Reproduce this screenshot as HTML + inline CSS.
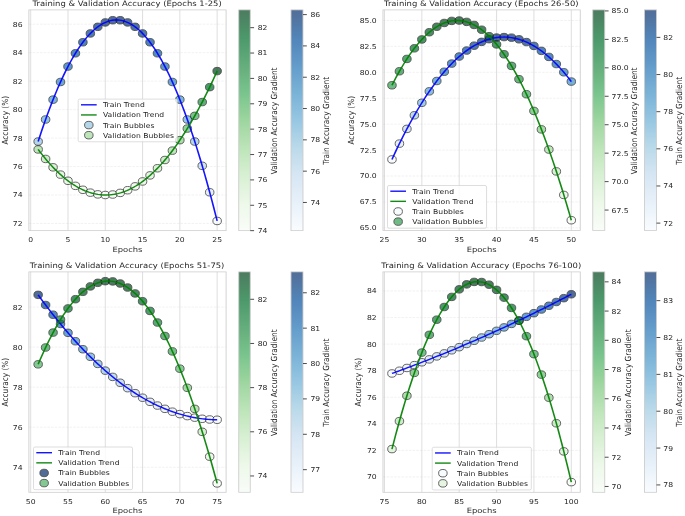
<!DOCTYPE html>
<html><head><meta charset="utf-8"><title>Training &amp; Validation Accuracy</title>
<style>html,body{margin:0;padding:0;background:#fff;overflow:hidden}svg{display:block}text{font-family:"DejaVu Sans","Liberation Sans",sans-serif}</style>
</head><body>
<svg width="685" height="516" viewBox="0 0 685 516">
<defs><linearGradient id="gG" x1="0" y1="0" x2="0" y2="1"><stop offset="0.0000" stop-color="#00441b"/><stop offset="0.0312" stop-color="#004d1f"/><stop offset="0.0625" stop-color="#005723"/><stop offset="0.0938" stop-color="#006227"/><stop offset="0.1250" stop-color="#006c2c"/><stop offset="0.1562" stop-color="#087432"/><stop offset="0.1875" stop-color="#117b38"/><stop offset="0.2188" stop-color="#19833e"/><stop offset="0.2500" stop-color="#228a44"/><stop offset="0.2812" stop-color="#2a924a"/><stop offset="0.3125" stop-color="#319a50"/><stop offset="0.3438" stop-color="#39a257"/><stop offset="0.3750" stop-color="#40aa5d"/><stop offset="0.4062" stop-color="#4db163"/><stop offset="0.4375" stop-color="#5ab769"/><stop offset="0.4688" stop-color="#66bd6f"/><stop offset="0.5000" stop-color="#73c476"/><stop offset="0.5312" stop-color="#7fc97f"/><stop offset="0.5625" stop-color="#8ace88"/><stop offset="0.5938" stop-color="#95d391"/><stop offset="0.6250" stop-color="#a0d99b"/><stop offset="0.6562" stop-color="#aadda4"/><stop offset="0.6875" stop-color="#b4e1ad"/><stop offset="0.7188" stop-color="#bde5b6"/><stop offset="0.7500" stop-color="#c7e9c0"/><stop offset="0.7812" stop-color="#ceecc8"/><stop offset="0.8125" stop-color="#d6efd0"/><stop offset="0.8438" stop-color="#ddf2d8"/><stop offset="0.8750" stop-color="#e5f5e0"/><stop offset="0.9062" stop-color="#e9f7e5"/><stop offset="0.9375" stop-color="#eef8ea"/><stop offset="0.9688" stop-color="#f2faf0"/><stop offset="1.0000" stop-color="#f7fcf5"/></linearGradient><linearGradient id="gB" x1="0" y1="0" x2="0" y2="1"><stop offset="0.0000" stop-color="#08306b"/><stop offset="0.0312" stop-color="#083776"/><stop offset="0.0625" stop-color="#084082"/><stop offset="0.0938" stop-color="#08488e"/><stop offset="0.1250" stop-color="#08509b"/><stop offset="0.1562" stop-color="#0e58a2"/><stop offset="0.1875" stop-color="#1460a8"/><stop offset="0.2188" stop-color="#1a68ae"/><stop offset="0.2500" stop-color="#2070b4"/><stop offset="0.2812" stop-color="#2979b9"/><stop offset="0.3125" stop-color="#3181bd"/><stop offset="0.3438" stop-color="#3989c1"/><stop offset="0.3750" stop-color="#4191c6"/><stop offset="0.4062" stop-color="#4b98ca"/><stop offset="0.4375" stop-color="#56a0ce"/><stop offset="0.4688" stop-color="#60a7d2"/><stop offset="0.5000" stop-color="#6aaed6"/><stop offset="0.5312" stop-color="#77b5d9"/><stop offset="0.5625" stop-color="#84bcdb"/><stop offset="0.5938" stop-color="#91c3de"/><stop offset="0.6250" stop-color="#9dcae1"/><stop offset="0.6562" stop-color="#a8cee4"/><stop offset="0.6875" stop-color="#b2d2e8"/><stop offset="0.7188" stop-color="#bcd7eb"/><stop offset="0.7500" stop-color="#c6dbef"/><stop offset="0.7812" stop-color="#ccdff1"/><stop offset="0.8125" stop-color="#d2e3f3"/><stop offset="0.8438" stop-color="#d8e7f5"/><stop offset="0.8750" stop-color="#deebf7"/><stop offset="0.9062" stop-color="#e4eff9"/><stop offset="0.9375" stop-color="#eaf3fb"/><stop offset="0.9688" stop-color="#f1f7fd"/><stop offset="1.0000" stop-color="#f7fbff"/></linearGradient></defs>
<rect width="685" height="516" fill="#fff"/>
<g transform="scale(0.6975,0.614)">
<g id="ax1">
<rect x="41.43" y="16.12" width="282.72" height="359.53" fill="#fff"/>
<line x1="44.00" x2="44.00" y1="16.12" y2="375.65" stroke="#cccccc" stroke-width="1.0"/>
<line x1="97.47" x2="97.47" y1="16.12" y2="375.65" stroke="#cccccc" stroke-width="1.0"/>
<line x1="150.93" x2="150.93" y1="16.12" y2="375.65" stroke="#cccccc" stroke-width="1.0"/>
<line x1="204.40" x2="204.40" y1="16.12" y2="375.65" stroke="#cccccc" stroke-width="1.0"/>
<line x1="257.86" x2="257.86" y1="16.12" y2="375.65" stroke="#cccccc" stroke-width="1.0"/>
<line x1="311.33" x2="311.33" y1="16.12" y2="375.65" stroke="#cccccc" stroke-width="1.0"/>
<line x1="41.43" x2="324.16" y1="363.95" y2="363.95" stroke="#cccccc" stroke-width="1.0" stroke-dasharray="3.7 1.6" stroke-opacity="0.4"/>
<line x1="41.43" x2="324.16" y1="317.58" y2="317.58" stroke="#cccccc" stroke-width="1.0" stroke-dasharray="3.7 1.6" stroke-opacity="0.4"/>
<line x1="41.43" x2="324.16" y1="271.22" y2="271.22" stroke="#cccccc" stroke-width="1.0" stroke-dasharray="3.7 1.6" stroke-opacity="0.4"/>
<line x1="41.43" x2="324.16" y1="224.86" y2="224.86" stroke="#cccccc" stroke-width="1.0" stroke-dasharray="3.7 1.6" stroke-opacity="0.4"/>
<line x1="41.43" x2="324.16" y1="178.50" y2="178.50" stroke="#cccccc" stroke-width="1.0" stroke-dasharray="3.7 1.6" stroke-opacity="0.4"/>
<line x1="41.43" x2="324.16" y1="132.14" y2="132.14" stroke="#cccccc" stroke-width="1.0" stroke-dasharray="3.7 1.6" stroke-opacity="0.4"/>
<line x1="41.43" x2="324.16" y1="85.78" y2="85.78" stroke="#cccccc" stroke-width="1.0" stroke-dasharray="3.7 1.6" stroke-opacity="0.4"/>
<line x1="41.43" x2="324.16" y1="39.42" y2="39.42" stroke="#cccccc" stroke-width="1.0" stroke-dasharray="3.7 1.6" stroke-opacity="0.4"/>
<circle cx="54.69" cy="230.53" r="6.12" fill="#97c6df" stroke="#000" stroke-width="1.3" opacity="0.7"/>
<circle cx="65.39" cy="194.60" r="6.12" fill="#69add5" stroke="#000" stroke-width="1.3" opacity="0.7"/>
<circle cx="76.08" cy="162.26" r="6.12" fill="#4997c9" stroke="#000" stroke-width="1.3" opacity="0.7"/>
<circle cx="86.77" cy="133.52" r="6.12" fill="#3181bd" stroke="#000" stroke-width="1.3" opacity="0.7"/>
<circle cx="97.47" cy="108.37" r="6.12" fill="#1d6cb1" stroke="#000" stroke-width="1.3" opacity="0.7"/>
<circle cx="108.16" cy="86.81" r="6.12" fill="#105ba4" stroke="#000" stroke-width="1.3" opacity="0.7"/>
<circle cx="118.85" cy="68.84" r="6.12" fill="#084d96" stroke="#000" stroke-width="1.3" opacity="0.7"/>
<circle cx="129.54" cy="54.47" r="6.12" fill="#084285" stroke="#000" stroke-width="1.3" opacity="0.7"/>
<circle cx="140.24" cy="43.69" r="6.12" fill="#083877" stroke="#000" stroke-width="1.3" opacity="0.7"/>
<circle cx="150.93" cy="36.51" r="6.12" fill="#083370" stroke="#000" stroke-width="1.3" opacity="0.7"/>
<circle cx="161.62" cy="32.92" r="6.12" fill="#08306b" stroke="#000" stroke-width="1.3" opacity="0.7"/>
<circle cx="172.32" cy="32.92" r="6.12" fill="#08306b" stroke="#000" stroke-width="1.3" opacity="0.7"/>
<circle cx="183.01" cy="36.51" r="6.12" fill="#083370" stroke="#000" stroke-width="1.3" opacity="0.7"/>
<circle cx="193.70" cy="43.69" r="6.12" fill="#083877" stroke="#000" stroke-width="1.3" opacity="0.7"/>
<circle cx="204.40" cy="54.47" r="6.12" fill="#084285" stroke="#000" stroke-width="1.3" opacity="0.7"/>
<circle cx="215.09" cy="68.84" r="6.12" fill="#084d96" stroke="#000" stroke-width="1.3" opacity="0.7"/>
<circle cx="225.78" cy="86.81" r="6.12" fill="#105ba4" stroke="#000" stroke-width="1.3" opacity="0.7"/>
<circle cx="236.47" cy="108.37" r="6.12" fill="#1d6cb1" stroke="#000" stroke-width="1.3" opacity="0.7"/>
<circle cx="247.17" cy="133.52" r="6.12" fill="#3181bd" stroke="#000" stroke-width="1.3" opacity="0.7"/>
<circle cx="257.86" cy="162.26" r="6.12" fill="#4997c9" stroke="#000" stroke-width="1.3" opacity="0.7"/>
<circle cx="268.55" cy="194.60" r="6.12" fill="#69add5" stroke="#000" stroke-width="1.3" opacity="0.7"/>
<circle cx="279.25" cy="230.53" r="6.12" fill="#97c6df" stroke="#000" stroke-width="1.3" opacity="0.7"/>
<circle cx="289.94" cy="270.05" r="6.12" fill="#bfd8ed" stroke="#000" stroke-width="1.3" opacity="0.7"/>
<circle cx="300.63" cy="313.17" r="6.12" fill="#dbe9f6" stroke="#000" stroke-width="1.3" opacity="0.7"/>
<circle cx="311.33" cy="359.87" r="6.12" fill="#f7fbff" stroke="#000" stroke-width="1.3" opacity="0.7"/>
<circle cx="54.69" cy="243.38" r="6.12" fill="#a3da9d" stroke="#000" stroke-width="1.3" opacity="0.7"/>
<circle cx="65.39" cy="258.86" r="6.12" fill="#bbe4b4" stroke="#000" stroke-width="1.3" opacity="0.7"/>
<circle cx="76.08" cy="272.52" r="6.12" fill="#cdecc7" stroke="#000" stroke-width="1.3" opacity="0.7"/>
<circle cx="86.77" cy="284.39" r="6.12" fill="#dbf1d6" stroke="#000" stroke-width="1.3" opacity="0.7"/>
<circle cx="97.47" cy="294.44" r="6.12" fill="#e7f6e2" stroke="#000" stroke-width="1.3" opacity="0.7"/>
<circle cx="108.16" cy="302.68" r="6.12" fill="#edf8e9" stroke="#000" stroke-width="1.3" opacity="0.7"/>
<circle cx="118.85" cy="309.12" r="6.12" fill="#f1faee" stroke="#000" stroke-width="1.3" opacity="0.7"/>
<circle cx="129.54" cy="313.75" r="6.12" fill="#f5fbf2" stroke="#000" stroke-width="1.3" opacity="0.7"/>
<circle cx="140.24" cy="316.57" r="6.12" fill="#f6fcf4" stroke="#000" stroke-width="1.3" opacity="0.7"/>
<circle cx="150.93" cy="317.58" r="6.12" fill="#f7fcf5" stroke="#000" stroke-width="1.3" opacity="0.7"/>
<circle cx="161.62" cy="316.79" r="6.12" fill="#f6fcf4" stroke="#000" stroke-width="1.3" opacity="0.7"/>
<circle cx="172.32" cy="314.18" r="6.12" fill="#f5fbf2" stroke="#000" stroke-width="1.3" opacity="0.7"/>
<circle cx="183.01" cy="309.77" r="6.12" fill="#f2faef" stroke="#000" stroke-width="1.3" opacity="0.7"/>
<circle cx="193.70" cy="303.55" r="6.12" fill="#edf8ea" stroke="#000" stroke-width="1.3" opacity="0.7"/>
<circle cx="204.40" cy="295.52" r="6.12" fill="#e7f6e3" stroke="#000" stroke-width="1.3" opacity="0.7"/>
<circle cx="215.09" cy="285.69" r="6.12" fill="#ddf2d8" stroke="#000" stroke-width="1.3" opacity="0.7"/>
<circle cx="225.78" cy="274.04" r="6.12" fill="#cfecc9" stroke="#000" stroke-width="1.3" opacity="0.7"/>
<circle cx="236.47" cy="260.59" r="6.12" fill="#bde5b6" stroke="#000" stroke-width="1.3" opacity="0.7"/>
<circle cx="247.17" cy="245.33" r="6.12" fill="#a7dba0" stroke="#000" stroke-width="1.3" opacity="0.7"/>
<circle cx="257.86" cy="228.26" r="6.12" fill="#88ce87" stroke="#000" stroke-width="1.3" opacity="0.7"/>
<circle cx="268.55" cy="209.39" r="6.12" fill="#65bd6f" stroke="#000" stroke-width="1.3" opacity="0.7"/>
<circle cx="279.25" cy="188.70" r="6.12" fill="#3ea75a" stroke="#000" stroke-width="1.3" opacity="0.7"/>
<circle cx="289.94" cy="166.21" r="6.12" fill="#228a44" stroke="#000" stroke-width="1.3" opacity="0.7"/>
<circle cx="300.63" cy="141.91" r="6.12" fill="#006d2c" stroke="#000" stroke-width="1.3" opacity="0.7"/>
<circle cx="311.33" cy="115.80" r="6.12" fill="#00441b" stroke="#000" stroke-width="1.3" opacity="0.7"/>
<polyline points="54.69,230.53 57.29,221.49 59.88,212.66 62.47,204.04 65.06,195.63 67.65,187.44 70.25,179.45 72.84,171.68 75.43,164.12 78.02,156.77 80.62,149.63 83.21,142.70 85.80,135.98 88.39,129.48 90.98,123.18 93.58,117.10 96.17,111.22 98.76,105.56 101.35,100.11 103.95,94.87 106.54,89.84 109.13,85.03 111.72,80.42 114.31,76.03 116.91,71.84 119.50,67.87 122.09,64.11 124.68,60.56 127.28,57.22 129.87,54.09 132.46,51.18 135.05,48.47 137.65,45.98 140.24,43.69 142.83,41.62 145.42,39.76 148.01,38.11 150.61,36.67 153.20,35.45 155.79,34.43 158.38,33.62 160.98,33.03 163.57,32.65 166.16,32.48 168.75,32.52 171.34,32.77 173.94,33.23 176.53,33.90 179.12,34.79 181.71,35.88 184.31,37.19 186.90,38.71 189.49,40.43 192.08,42.37 194.67,44.53 197.27,46.89 199.86,49.46 202.45,52.25 205.04,55.24 207.64,58.45 210.23,61.87 212.82,65.50 215.41,69.34 218.00,73.39 220.60,77.65 223.19,82.12 225.78,86.81 228.37,91.71 230.97,96.81 233.56,102.13 236.15,107.66 238.74,113.40 241.34,119.35 243.93,125.52 246.52,131.89 249.11,138.48 251.70,145.27 254.30,152.28 256.89,159.50 259.48,166.93 262.07,174.57 264.67,182.42 267.26,190.49 269.85,198.76 272.44,207.25 275.03,215.94 277.63,224.85 280.22,233.97 282.81,243.30 285.40,252.84 288.00,262.60 290.59,272.56 293.18,282.74 295.77,293.12 298.36,303.72 300.96,314.53 303.55,325.55 306.14,336.78 308.73,348.22 311.33,359.87" fill="none" stroke="#0000ff" stroke-width="2.3" stroke-linejoin="round" stroke-opacity="0.92"/>
<polyline points="54.69,243.38 57.29,247.30 59.88,251.11 62.47,254.81 65.06,258.41 67.65,261.91 70.25,265.29 72.84,268.57 75.43,271.75 78.02,274.82 80.62,277.78 83.21,280.63 85.80,283.38 88.39,286.02 90.98,288.56 93.58,290.99 96.17,293.32 98.76,295.53 101.35,297.65 103.95,299.65 106.54,301.55 109.13,303.34 111.72,305.03 114.31,306.61 116.91,308.08 119.50,309.45 122.09,310.71 124.68,311.87 127.28,312.92 129.87,313.86 132.46,314.70 135.05,315.43 137.65,316.05 140.24,316.57 142.83,316.98 145.42,317.29 148.01,317.48 150.61,317.58 153.20,317.56 155.79,317.44 158.38,317.22 160.98,316.89 163.57,316.45 166.16,315.90 168.75,315.25 171.34,314.49 173.94,313.63 176.53,312.66 179.12,311.58 181.71,310.40 184.31,309.11 186.90,307.72 189.49,306.22 192.08,304.61 194.67,302.90 197.27,301.08 199.86,299.15 202.45,297.12 205.04,294.98 207.64,292.73 210.23,290.38 212.82,287.92 215.41,285.36 218.00,282.69 220.60,279.91 223.19,277.03 225.78,274.04 228.37,270.95 230.97,267.75 233.56,264.44 236.15,261.03 238.74,257.51 241.34,253.88 243.93,250.15 246.52,246.31 249.11,242.36 251.70,238.31 254.30,234.15 256.89,229.89 259.48,225.52 262.07,221.04 264.67,216.46 267.26,211.77 269.85,206.98 272.44,202.07 275.03,197.07 277.63,191.95 280.22,186.73 282.81,181.41 285.40,175.97 288.00,170.43 290.59,164.79 293.18,159.04 295.77,153.18 298.36,147.22 300.96,141.14 303.55,134.97 306.14,128.69 308.73,122.30 311.33,115.80" fill="none" stroke="#008000" stroke-width="2.3" stroke-linejoin="round" stroke-opacity="0.92"/>
<rect x="41.43" y="16.12" width="282.72" height="359.53" fill="none" stroke="#cccccc" stroke-width="1.25"/>
<text x="44.00" y="394.45" font-size="11" text-anchor="middle" fill="#262626">0</text>
<text x="97.47" y="394.45" font-size="11" text-anchor="middle" fill="#262626">5</text>
<text x="150.93" y="394.45" font-size="11" text-anchor="middle" fill="#262626">10</text>
<text x="204.40" y="394.45" font-size="11" text-anchor="middle" fill="#262626">15</text>
<text x="257.86" y="394.45" font-size="11" text-anchor="middle" fill="#262626">20</text>
<text x="311.33" y="394.45" font-size="11" text-anchor="middle" fill="#262626">25</text>
<text x="32.43" y="367.95" font-size="11" text-anchor="end" fill="#262626">72</text>
<text x="32.43" y="321.58" font-size="11" text-anchor="end" fill="#262626">74</text>
<text x="32.43" y="275.22" font-size="11" text-anchor="end" fill="#262626">76</text>
<text x="32.43" y="228.86" font-size="11" text-anchor="end" fill="#262626">78</text>
<text x="32.43" y="182.50" font-size="11" text-anchor="end" fill="#262626">80</text>
<text x="32.43" y="136.14" font-size="11" text-anchor="end" fill="#262626">82</text>
<text x="32.43" y="89.78" font-size="11" text-anchor="end" fill="#262626">84</text>
<text x="32.43" y="43.42" font-size="11" text-anchor="end" fill="#262626">86</text>
<text x="182.80" y="410.15" font-size="12" text-anchor="middle" fill="#262626">Epochs</text>
<text transform="translate(11.43,195.89) rotate(-90)" font-size="12" text-anchor="middle" fill="#262626">Accuracy (%)</text>
<text x="182.30" y="9.72" font-size="12.1" text-anchor="middle" fill="#262626">Training &amp; Validation Accuracy (Epochs 1-25)</text>
<rect x="112.11" y="161.40" width="142.00" height="69.50" rx="2.2" ry="2.2" fill="#fff" fill-opacity="0.8" stroke="#cccccc" stroke-width="1"/>
<line x1="116.11" x2="138.61" y1="170.70" y2="170.70" stroke="#0000ff" stroke-width="2.3" stroke-opacity="0.92"/>
<line x1="116.11" x2="138.61" y1="187.20" y2="187.20" stroke="#008000" stroke-width="2.3" stroke-opacity="0.92"/>
<circle cx="127.36" cy="203.70" r="6.12" fill="#97c6df" stroke="#000" stroke-width="1.3" opacity="0.7"/>
<circle cx="127.36" cy="220.20" r="6.12" fill="#a3da9d" stroke="#000" stroke-width="1.3" opacity="0.7"/>
<text x="147.61" y="174.70" font-size="11" text-anchor="start" fill="#262626">Train Trend</text>
<text x="147.61" y="191.20" font-size="11" text-anchor="start" fill="#262626">Validation Trend</text>
<text x="147.61" y="207.70" font-size="11" text-anchor="start" fill="#262626">Train Bubbles</text>
<text x="147.61" y="224.20" font-size="11" text-anchor="start" fill="#262626">Validation Bubbles</text>
<rect x="342.29" y="16.12" width="16.49" height="359.53" fill="url(#gG)" fill-opacity="0.7"/>
<rect x="342.29" y="16.12" width="16.49" height="359.53" fill="none" stroke="#cccccc" stroke-width="1.25"/>
<line x1="358.78" x2="364.28" y1="375.65" y2="375.65" stroke="#262626" stroke-width="1.25"/>
<text x="369.48" y="379.65" font-size="11" text-anchor="start" fill="#262626">74</text>
<line x1="358.78" x2="364.28" y1="334.33" y2="334.33" stroke="#262626" stroke-width="1.25"/>
<text x="369.48" y="338.33" font-size="11" text-anchor="start" fill="#262626">75</text>
<line x1="358.78" x2="364.28" y1="293.00" y2="293.00" stroke="#262626" stroke-width="1.25"/>
<text x="369.48" y="297.00" font-size="11" text-anchor="start" fill="#262626">76</text>
<line x1="358.78" x2="364.28" y1="251.68" y2="251.68" stroke="#262626" stroke-width="1.25"/>
<text x="369.48" y="255.68" font-size="11" text-anchor="start" fill="#262626">77</text>
<line x1="358.78" x2="364.28" y1="210.35" y2="210.35" stroke="#262626" stroke-width="1.25"/>
<text x="369.48" y="214.35" font-size="11" text-anchor="start" fill="#262626">78</text>
<line x1="358.78" x2="364.28" y1="169.03" y2="169.03" stroke="#262626" stroke-width="1.25"/>
<text x="369.48" y="173.03" font-size="11" text-anchor="start" fill="#262626">79</text>
<line x1="358.78" x2="364.28" y1="127.70" y2="127.70" stroke="#262626" stroke-width="1.25"/>
<text x="369.48" y="131.70" font-size="11" text-anchor="start" fill="#262626">80</text>
<line x1="358.78" x2="364.28" y1="86.38" y2="86.38" stroke="#262626" stroke-width="1.25"/>
<text x="369.48" y="90.38" font-size="11" text-anchor="start" fill="#262626">81</text>
<line x1="358.78" x2="364.28" y1="45.05" y2="45.05" stroke="#262626" stroke-width="1.25"/>
<text x="369.48" y="49.05" font-size="11" text-anchor="start" fill="#262626">82</text>
<text transform="translate(397.78,196.89) rotate(-90)" font-size="12" text-anchor="middle" fill="#262626" dominant-baseline="auto">Validation Accuracy Gradient</text>
<rect x="417.20" y="16.12" width="17.20" height="359.53" fill="url(#gB)" fill-opacity="0.7"/>
<rect x="417.20" y="16.12" width="17.20" height="359.53" fill="none" stroke="#cccccc" stroke-width="1.25"/>
<line x1="434.41" x2="439.91" y1="329.75" y2="329.75" stroke="#262626" stroke-width="1.25"/>
<text x="445.11" y="333.75" font-size="11" text-anchor="start" fill="#262626">74</text>
<line x1="434.41" x2="439.91" y1="278.76" y2="278.76" stroke="#262626" stroke-width="1.25"/>
<text x="445.11" y="282.76" font-size="11" text-anchor="start" fill="#262626">76</text>
<line x1="434.41" x2="439.91" y1="227.76" y2="227.76" stroke="#262626" stroke-width="1.25"/>
<text x="445.11" y="231.76" font-size="11" text-anchor="start" fill="#262626">78</text>
<line x1="434.41" x2="439.91" y1="176.76" y2="176.76" stroke="#262626" stroke-width="1.25"/>
<text x="445.11" y="180.76" font-size="11" text-anchor="start" fill="#262626">80</text>
<line x1="434.41" x2="439.91" y1="125.77" y2="125.77" stroke="#262626" stroke-width="1.25"/>
<text x="445.11" y="129.77" font-size="11" text-anchor="start" fill="#262626">82</text>
<line x1="434.41" x2="439.91" y1="74.77" y2="74.77" stroke="#262626" stroke-width="1.25"/>
<text x="445.11" y="78.77" font-size="11" text-anchor="start" fill="#262626">84</text>
<line x1="434.41" x2="439.91" y1="23.77" y2="23.77" stroke="#262626" stroke-width="1.25"/>
<text x="445.11" y="27.77" font-size="11" text-anchor="start" fill="#262626">86</text>
<text transform="translate(472.21,196.89) rotate(-90)" font-size="12" text-anchor="middle" fill="#262626" dominant-baseline="auto">Train Accuracy Gradient</text>
</g>
<g id="ax2">
<rect x="549.10" y="16.12" width="282.80" height="359.36" fill="#fff"/>
<line x1="551.25" x2="551.25" y1="16.12" y2="375.49" stroke="#cccccc" stroke-width="1.0"/>
<line x1="604.81" x2="604.81" y1="16.12" y2="375.49" stroke="#cccccc" stroke-width="1.0"/>
<line x1="658.37" x2="658.37" y1="16.12" y2="375.49" stroke="#cccccc" stroke-width="1.0"/>
<line x1="711.93" x2="711.93" y1="16.12" y2="375.49" stroke="#cccccc" stroke-width="1.0"/>
<line x1="765.49" x2="765.49" y1="16.12" y2="375.49" stroke="#cccccc" stroke-width="1.0"/>
<line x1="819.05" x2="819.05" y1="16.12" y2="375.49" stroke="#cccccc" stroke-width="1.0"/>
<line x1="549.10" x2="831.90" y1="371.10" y2="371.10" stroke="#cccccc" stroke-width="1.0" stroke-dasharray="3.7 1.6" stroke-opacity="0.4"/>
<line x1="549.10" x2="831.90" y1="328.88" y2="328.88" stroke="#cccccc" stroke-width="1.0" stroke-dasharray="3.7 1.6" stroke-opacity="0.4"/>
<line x1="549.10" x2="831.90" y1="286.66" y2="286.66" stroke="#cccccc" stroke-width="1.0" stroke-dasharray="3.7 1.6" stroke-opacity="0.4"/>
<line x1="549.10" x2="831.90" y1="244.44" y2="244.44" stroke="#cccccc" stroke-width="1.0" stroke-dasharray="3.7 1.6" stroke-opacity="0.4"/>
<line x1="549.10" x2="831.90" y1="202.22" y2="202.22" stroke="#cccccc" stroke-width="1.0" stroke-dasharray="3.7 1.6" stroke-opacity="0.4"/>
<line x1="549.10" x2="831.90" y1="160.00" y2="160.00" stroke="#cccccc" stroke-width="1.0" stroke-dasharray="3.7 1.6" stroke-opacity="0.4"/>
<line x1="549.10" x2="831.90" y1="117.79" y2="117.79" stroke="#cccccc" stroke-width="1.0" stroke-dasharray="3.7 1.6" stroke-opacity="0.4"/>
<line x1="549.10" x2="831.90" y1="75.57" y2="75.57" stroke="#cccccc" stroke-width="1.0" stroke-dasharray="3.7 1.6" stroke-opacity="0.4"/>
<line x1="549.10" x2="831.90" y1="33.35" y2="33.35" stroke="#cccccc" stroke-width="1.0" stroke-dasharray="3.7 1.6" stroke-opacity="0.4"/>
<circle cx="561.96" cy="259.66" r="6.12" fill="#f7fbff" stroke="#000" stroke-width="1.3" opacity="0.7"/>
<circle cx="572.67" cy="233.92" r="6.12" fill="#deebf7" stroke="#000" stroke-width="1.3" opacity="0.7"/>
<circle cx="583.38" cy="209.97" r="6.12" fill="#c7dbef" stroke="#000" stroke-width="1.3" opacity="0.7"/>
<circle cx="594.09" cy="187.79" r="6.12" fill="#a4cce3" stroke="#000" stroke-width="1.3" opacity="0.7"/>
<circle cx="604.81" cy="167.39" r="6.12" fill="#7cb7da" stroke="#000" stroke-width="1.3" opacity="0.7"/>
<circle cx="615.52" cy="148.77" r="6.12" fill="#5aa2cf" stroke="#000" stroke-width="1.3" opacity="0.7"/>
<circle cx="626.23" cy="131.92" r="6.12" fill="#3f8fc5" stroke="#000" stroke-width="1.3" opacity="0.7"/>
<circle cx="636.94" cy="116.86" r="6.12" fill="#2b7bba" stroke="#000" stroke-width="1.3" opacity="0.7"/>
<circle cx="647.65" cy="103.57" r="6.12" fill="#1b69af" stroke="#000" stroke-width="1.3" opacity="0.7"/>
<circle cx="658.37" cy="92.06" r="6.12" fill="#105ba4" stroke="#000" stroke-width="1.3" opacity="0.7"/>
<circle cx="669.08" cy="82.34" r="6.12" fill="#084e98" stroke="#000" stroke-width="1.3" opacity="0.7"/>
<circle cx="679.79" cy="74.38" r="6.12" fill="#084488" stroke="#000" stroke-width="1.3" opacity="0.7"/>
<circle cx="690.50" cy="68.21" r="6.12" fill="#083b7c" stroke="#000" stroke-width="1.3" opacity="0.7"/>
<circle cx="701.21" cy="63.82" r="6.12" fill="#083674" stroke="#000" stroke-width="1.3" opacity="0.7"/>
<circle cx="711.93" cy="61.21" r="6.12" fill="#08326e" stroke="#000" stroke-width="1.3" opacity="0.7"/>
<circle cx="722.64" cy="60.37" r="6.12" fill="#08316d" stroke="#000" stroke-width="1.3" opacity="0.7"/>
<circle cx="733.35" cy="61.31" r="6.12" fill="#08326e" stroke="#000" stroke-width="1.3" opacity="0.7"/>
<circle cx="744.06" cy="64.03" r="6.12" fill="#083674" stroke="#000" stroke-width="1.3" opacity="0.7"/>
<circle cx="754.77" cy="68.53" r="6.12" fill="#083c7d" stroke="#000" stroke-width="1.3" opacity="0.7"/>
<circle cx="765.49" cy="74.81" r="6.12" fill="#08458a" stroke="#000" stroke-width="1.3" opacity="0.7"/>
<circle cx="776.20" cy="82.87" r="6.12" fill="#084f99" stroke="#000" stroke-width="1.3" opacity="0.7"/>
<circle cx="786.91" cy="92.70" r="6.12" fill="#105ba4" stroke="#000" stroke-width="1.3" opacity="0.7"/>
<circle cx="797.62" cy="104.32" r="6.12" fill="#1c6ab0" stroke="#000" stroke-width="1.3" opacity="0.7"/>
<circle cx="808.33" cy="117.71" r="6.12" fill="#2c7cba" stroke="#000" stroke-width="1.3" opacity="0.7"/>
<circle cx="819.05" cy="132.88" r="6.12" fill="#4090c5" stroke="#000" stroke-width="1.3" opacity="0.7"/>
<circle cx="561.96" cy="138.92" r="6.12" fill="#359e53" stroke="#000" stroke-width="1.3" opacity="0.7"/>
<circle cx="572.67" cy="116.07" r="6.12" fill="#248c46" stroke="#000" stroke-width="1.3" opacity="0.7"/>
<circle cx="583.38" cy="96.00" r="6.12" fill="#147e3a" stroke="#000" stroke-width="1.3" opacity="0.7"/>
<circle cx="594.09" cy="78.72" r="6.12" fill="#05712f" stroke="#000" stroke-width="1.3" opacity="0.7"/>
<circle cx="604.81" cy="64.22" r="6.12" fill="#006428" stroke="#000" stroke-width="1.3" opacity="0.7"/>
<circle cx="615.52" cy="52.50" r="6.12" fill="#005924" stroke="#000" stroke-width="1.3" opacity="0.7"/>
<circle cx="626.23" cy="43.57" r="6.12" fill="#005020" stroke="#000" stroke-width="1.3" opacity="0.7"/>
<circle cx="636.94" cy="37.42" r="6.12" fill="#00491d" stroke="#000" stroke-width="1.3" opacity="0.7"/>
<circle cx="647.65" cy="34.05" r="6.12" fill="#00451c" stroke="#000" stroke-width="1.3" opacity="0.7"/>
<circle cx="658.37" cy="33.47" r="6.12" fill="#00451c" stroke="#000" stroke-width="1.3" opacity="0.7"/>
<circle cx="669.08" cy="35.66" r="6.12" fill="#00471c" stroke="#000" stroke-width="1.3" opacity="0.7"/>
<circle cx="679.79" cy="40.65" r="6.12" fill="#004c1e" stroke="#000" stroke-width="1.3" opacity="0.7"/>
<circle cx="690.50" cy="48.41" r="6.12" fill="#005321" stroke="#000" stroke-width="1.3" opacity="0.7"/>
<circle cx="701.21" cy="58.96" r="6.12" fill="#005f26" stroke="#000" stroke-width="1.3" opacity="0.7"/>
<circle cx="711.93" cy="72.29" r="6.12" fill="#006c2c" stroke="#000" stroke-width="1.3" opacity="0.7"/>
<circle cx="722.64" cy="88.40" r="6.12" fill="#0d7836" stroke="#000" stroke-width="1.3" opacity="0.7"/>
<circle cx="733.35" cy="107.30" r="6.12" fill="#1e8741" stroke="#000" stroke-width="1.3" opacity="0.7"/>
<circle cx="744.06" cy="128.98" r="6.12" fill="#2e964d" stroke="#000" stroke-width="1.3" opacity="0.7"/>
<circle cx="754.77" cy="153.44" r="6.12" fill="#40aa5d" stroke="#000" stroke-width="1.3" opacity="0.7"/>
<circle cx="765.49" cy="180.69" r="6.12" fill="#62bb6d" stroke="#000" stroke-width="1.3" opacity="0.7"/>
<circle cx="776.20" cy="210.72" r="6.12" fill="#84cc83" stroke="#000" stroke-width="1.3" opacity="0.7"/>
<circle cx="786.91" cy="243.53" r="6.12" fill="#a8dca2" stroke="#000" stroke-width="1.3" opacity="0.7"/>
<circle cx="797.62" cy="279.13" r="6.12" fill="#c9eac2" stroke="#000" stroke-width="1.3" opacity="0.7"/>
<circle cx="808.33" cy="317.50" r="6.12" fill="#e5f5e0" stroke="#000" stroke-width="1.3" opacity="0.7"/>
<circle cx="819.05" cy="358.67" r="6.12" fill="#f7fcf5" stroke="#000" stroke-width="1.3" opacity="0.7"/>
<polyline points="561.96,259.66 564.56,253.26 567.15,246.96 569.75,240.77 572.35,234.68 574.94,228.69 577.54,222.81 580.14,217.04 582.73,211.37 585.33,205.80 587.93,200.34 590.52,194.98 593.12,189.73 595.72,184.58 598.31,179.54 600.91,174.60 603.51,169.77 606.10,165.04 608.70,160.41 611.30,155.89 613.90,151.47 616.49,147.16 619.09,142.95 621.69,138.85 624.28,134.85 626.88,130.96 629.48,127.17 632.07,123.48 634.67,119.90 637.27,116.43 639.86,113.06 642.46,109.79 645.06,106.63 647.65,103.57 650.25,100.62 652.85,97.77 655.44,95.03 658.04,92.39 660.64,89.85 663.23,87.42 665.83,85.10 668.43,82.87 671.03,80.76 673.62,78.75 676.22,76.84 678.82,75.03 681.41,73.34 684.01,71.74 686.61,70.25 689.20,68.87 691.80,67.59 694.40,66.41 696.99,65.34 699.59,64.37 702.19,63.51 704.78,62.75 707.38,62.10 709.98,61.55 712.57,61.10 715.17,60.76 717.77,60.53 720.37,60.40 722.96,60.37 725.56,60.45 728.16,60.63 730.75,60.92 733.35,61.31 735.95,61.81 738.54,62.41 741.14,63.12 743.74,63.92 746.33,64.84 748.93,65.86 751.53,66.98 754.12,68.21 756.72,69.54 759.32,70.98 761.91,72.52 764.51,74.17 767.11,75.92 769.71,77.77 772.30,79.73 774.90,81.80 777.50,83.97 780.09,86.24 782.69,88.62 785.29,91.10 787.88,93.69 790.48,96.38 793.08,99.17 795.67,102.07 798.27,105.08 800.87,108.19 803.46,111.40 806.06,114.72 808.66,118.14 811.25,121.67 813.85,125.30 816.45,129.04 819.05,132.88" fill="none" stroke="#0000ff" stroke-width="2.3" stroke-linejoin="round" stroke-opacity="0.92"/>
<polyline points="561.96,138.92 564.56,133.12 567.15,127.49 569.75,122.02 572.35,116.72 574.94,111.58 577.54,106.60 580.14,101.79 582.73,97.14 585.33,92.65 587.93,88.33 590.52,84.17 593.12,80.17 595.72,76.34 598.31,72.67 600.91,69.17 603.51,65.83 606.10,62.65 608.70,59.64 611.30,56.79 613.90,54.10 616.49,51.57 619.09,49.21 621.69,47.02 624.28,44.99 626.88,43.12 629.48,41.41 632.07,39.87 634.67,38.49 637.27,37.27 639.86,36.22 642.46,35.34 645.06,34.61 647.65,34.05 650.25,33.65 652.85,33.42 655.44,33.35 658.04,33.44 660.64,33.70 663.23,34.12 665.83,34.70 668.43,35.45 671.03,36.36 673.62,37.44 676.22,38.68 678.82,40.08 681.41,41.64 684.01,43.37 686.61,45.27 689.20,47.32 691.80,49.54 694.40,51.92 696.99,54.47 699.59,57.18 702.19,60.06 704.78,63.09 707.38,66.29 709.98,69.66 712.57,73.19 715.17,76.88 717.77,80.73 720.37,84.75 722.96,88.94 725.56,93.28 728.16,97.79 730.75,102.46 733.35,107.30 735.95,112.30 738.54,117.46 741.14,122.79 743.74,128.28 746.33,133.94 748.93,139.75 751.53,145.74 754.12,151.88 756.72,158.19 759.32,164.66 761.91,171.30 764.51,178.10 767.11,185.06 769.71,192.19 772.30,199.48 774.90,206.93 777.50,214.55 780.09,222.33 782.69,230.27 785.29,238.38 787.88,246.65 790.48,255.09 793.08,263.69 795.67,272.45 798.27,281.37 800.87,290.46 803.46,299.71 806.06,309.13 808.66,318.71 811.25,328.45 813.85,338.36 816.45,348.43 819.05,358.67" fill="none" stroke="#008000" stroke-width="2.3" stroke-linejoin="round" stroke-opacity="0.92"/>
<rect x="549.10" y="16.12" width="282.80" height="359.36" fill="none" stroke="#cccccc" stroke-width="1.25"/>
<text x="551.25" y="394.29" font-size="11" text-anchor="middle" fill="#262626">25</text>
<text x="604.81" y="394.29" font-size="11" text-anchor="middle" fill="#262626">30</text>
<text x="658.37" y="394.29" font-size="11" text-anchor="middle" fill="#262626">35</text>
<text x="711.93" y="394.29" font-size="11" text-anchor="middle" fill="#262626">40</text>
<text x="765.49" y="394.29" font-size="11" text-anchor="middle" fill="#262626">45</text>
<text x="819.05" y="394.29" font-size="11" text-anchor="middle" fill="#262626">50</text>
<text x="540.10" y="375.10" font-size="11" text-anchor="end" fill="#262626">65.0</text>
<text x="540.10" y="332.88" font-size="11" text-anchor="end" fill="#262626">67.5</text>
<text x="540.10" y="290.66" font-size="11" text-anchor="end" fill="#262626">70.0</text>
<text x="540.10" y="248.44" font-size="11" text-anchor="end" fill="#262626">72.5</text>
<text x="540.10" y="206.22" font-size="11" text-anchor="end" fill="#262626">75.0</text>
<text x="540.10" y="164.00" font-size="11" text-anchor="end" fill="#262626">77.5</text>
<text x="540.10" y="121.79" font-size="11" text-anchor="end" fill="#262626">80.0</text>
<text x="540.10" y="79.57" font-size="11" text-anchor="end" fill="#262626">82.5</text>
<text x="540.10" y="37.35" font-size="11" text-anchor="end" fill="#262626">85.0</text>
<text x="690.50" y="409.99" font-size="12" text-anchor="middle" fill="#262626">Epochs</text>
<text transform="translate(507.10,195.81) rotate(-90)" font-size="12" text-anchor="middle" fill="#262626">Accuracy (%)</text>
<text x="690.00" y="9.72" font-size="12.1" text-anchor="middle" fill="#262626">Training &amp; Validation Accuracy (Epochs 26-50)</text>
<rect x="555.56" y="302.12" width="142.00" height="69.50" rx="2.2" ry="2.2" fill="#fff" fill-opacity="0.8" stroke="#cccccc" stroke-width="1"/>
<line x1="559.56" x2="582.06" y1="311.42" y2="311.42" stroke="#0000ff" stroke-width="2.3" stroke-opacity="0.92"/>
<line x1="559.56" x2="582.06" y1="327.92" y2="327.92" stroke="#008000" stroke-width="2.3" stroke-opacity="0.92"/>
<circle cx="570.81" cy="344.42" r="6.12" fill="#f7fbff" stroke="#000" stroke-width="1.3" opacity="0.7"/>
<circle cx="570.81" cy="360.92" r="6.12" fill="#359e53" stroke="#000" stroke-width="1.3" opacity="0.7"/>
<text x="591.06" y="315.42" font-size="11" text-anchor="start" fill="#262626">Train Trend</text>
<text x="591.06" y="331.92" font-size="11" text-anchor="start" fill="#262626">Validation Trend</text>
<text x="591.06" y="348.42" font-size="11" text-anchor="start" fill="#262626">Train Bubbles</text>
<text x="591.06" y="364.92" font-size="11" text-anchor="start" fill="#262626">Validation Bubbles</text>
<rect x="849.82" y="16.12" width="17.20" height="359.36" fill="url(#gG)" fill-opacity="0.7"/>
<rect x="849.82" y="16.12" width="17.20" height="359.36" fill="none" stroke="#cccccc" stroke-width="1.25"/>
<line x1="867.03" x2="872.53" y1="342.13" y2="342.13" stroke="#262626" stroke-width="1.25"/>
<text x="876.73" y="346.13" font-size="11" text-anchor="start" fill="#262626">67.5</text>
<line x1="867.03" x2="872.53" y1="295.79" y2="295.79" stroke="#262626" stroke-width="1.25"/>
<text x="876.73" y="299.79" font-size="11" text-anchor="start" fill="#262626">70.0</text>
<line x1="867.03" x2="872.53" y1="249.46" y2="249.46" stroke="#262626" stroke-width="1.25"/>
<text x="876.73" y="253.46" font-size="11" text-anchor="start" fill="#262626">72.5</text>
<line x1="867.03" x2="872.53" y1="203.13" y2="203.13" stroke="#262626" stroke-width="1.25"/>
<text x="876.73" y="207.13" font-size="11" text-anchor="start" fill="#262626">75.0</text>
<line x1="867.03" x2="872.53" y1="156.79" y2="156.79" stroke="#262626" stroke-width="1.25"/>
<text x="876.73" y="160.79" font-size="11" text-anchor="start" fill="#262626">77.5</text>
<line x1="867.03" x2="872.53" y1="110.46" y2="110.46" stroke="#262626" stroke-width="1.25"/>
<text x="876.73" y="114.46" font-size="11" text-anchor="start" fill="#262626">80.0</text>
<line x1="867.03" x2="872.53" y1="64.13" y2="64.13" stroke="#262626" stroke-width="1.25"/>
<text x="876.73" y="68.13" font-size="11" text-anchor="start" fill="#262626">82.5</text>
<line x1="867.03" x2="872.53" y1="17.79" y2="17.79" stroke="#262626" stroke-width="1.25"/>
<text x="876.73" y="21.79" font-size="11" text-anchor="start" fill="#262626">85.0</text>
<text transform="translate(913.63,196.81) rotate(-90)" font-size="12" text-anchor="middle" fill="#262626" dominant-baseline="auto">Validation Accuracy Gradient</text>
<rect x="924.01" y="16.12" width="17.20" height="359.36" fill="url(#gB)" fill-opacity="0.7"/>
<rect x="924.01" y="16.12" width="17.20" height="359.36" fill="none" stroke="#cccccc" stroke-width="1.25"/>
<line x1="941.22" x2="946.72" y1="363.39" y2="363.39" stroke="#262626" stroke-width="1.25"/>
<text x="950.92" y="367.39" font-size="11" text-anchor="start" fill="#262626">72</text>
<line x1="941.22" x2="946.72" y1="302.89" y2="302.89" stroke="#262626" stroke-width="1.25"/>
<text x="950.92" y="306.89" font-size="11" text-anchor="start" fill="#262626">74</text>
<line x1="941.22" x2="946.72" y1="242.39" y2="242.39" stroke="#262626" stroke-width="1.25"/>
<text x="950.92" y="246.39" font-size="11" text-anchor="start" fill="#262626">76</text>
<line x1="941.22" x2="946.72" y1="181.89" y2="181.89" stroke="#262626" stroke-width="1.25"/>
<text x="950.92" y="185.89" font-size="11" text-anchor="start" fill="#262626">78</text>
<line x1="941.22" x2="946.72" y1="121.39" y2="121.39" stroke="#262626" stroke-width="1.25"/>
<text x="950.92" y="125.39" font-size="11" text-anchor="start" fill="#262626">80</text>
<line x1="941.22" x2="946.72" y1="60.89" y2="60.89" stroke="#262626" stroke-width="1.25"/>
<text x="950.92" y="64.89" font-size="11" text-anchor="start" fill="#262626">82</text>
<text transform="translate(978.42,196.81) rotate(-90)" font-size="12" text-anchor="middle" fill="#262626" dominant-baseline="auto">Train Accuracy Gradient</text>
</g>
<g id="ax3">
<rect x="41.43" y="442.83" width="282.72" height="358.96" fill="#fff"/>
<line x1="44.00" x2="44.00" y1="442.83" y2="801.79" stroke="#cccccc" stroke-width="1.0"/>
<line x1="97.47" x2="97.47" y1="442.83" y2="801.79" stroke="#cccccc" stroke-width="1.0"/>
<line x1="150.93" x2="150.93" y1="442.83" y2="801.79" stroke="#cccccc" stroke-width="1.0"/>
<line x1="204.40" x2="204.40" y1="442.83" y2="801.79" stroke="#cccccc" stroke-width="1.0"/>
<line x1="257.86" x2="257.86" y1="442.83" y2="801.79" stroke="#cccccc" stroke-width="1.0"/>
<line x1="311.33" x2="311.33" y1="442.83" y2="801.79" stroke="#cccccc" stroke-width="1.0"/>
<line x1="41.43" x2="324.16" y1="761.02" y2="761.02" stroke="#cccccc" stroke-width="1.0" stroke-dasharray="3.7 1.6" stroke-opacity="0.4"/>
<line x1="41.43" x2="324.16" y1="695.79" y2="695.79" stroke="#cccccc" stroke-width="1.0" stroke-dasharray="3.7 1.6" stroke-opacity="0.4"/>
<line x1="41.43" x2="324.16" y1="630.56" y2="630.56" stroke="#cccccc" stroke-width="1.0" stroke-dasharray="3.7 1.6" stroke-opacity="0.4"/>
<line x1="41.43" x2="324.16" y1="565.33" y2="565.33" stroke="#cccccc" stroke-width="1.0" stroke-dasharray="3.7 1.6" stroke-opacity="0.4"/>
<line x1="41.43" x2="324.16" y1="500.11" y2="500.11" stroke="#cccccc" stroke-width="1.0" stroke-dasharray="3.7 1.6" stroke-opacity="0.4"/>
<circle cx="54.69" cy="480.24" r="6.12" fill="#08306b" stroke="#000" stroke-width="1.3" opacity="0.7"/>
<circle cx="65.39" cy="496.74" r="6.12" fill="#08458a" stroke="#000" stroke-width="1.3" opacity="0.7"/>
<circle cx="76.08" cy="512.54" r="6.12" fill="#0e58a2" stroke="#000" stroke-width="1.3" opacity="0.7"/>
<circle cx="86.77" cy="527.65" r="6.12" fill="#1c6bb0" stroke="#000" stroke-width="1.3" opacity="0.7"/>
<circle cx="97.47" cy="542.06" r="6.12" fill="#2f7fbc" stroke="#000" stroke-width="1.3" opacity="0.7"/>
<circle cx="108.16" cy="555.77" r="6.12" fill="#4090c5" stroke="#000" stroke-width="1.3" opacity="0.7"/>
<circle cx="118.85" cy="568.78" r="6.12" fill="#549fcd" stroke="#000" stroke-width="1.3" opacity="0.7"/>
<circle cx="129.54" cy="581.09" r="6.12" fill="#69add5" stroke="#000" stroke-width="1.3" opacity="0.7"/>
<circle cx="140.24" cy="592.71" r="6.12" fill="#7fb9da" stroke="#000" stroke-width="1.3" opacity="0.7"/>
<circle cx="150.93" cy="603.63" r="6.12" fill="#95c5df" stroke="#000" stroke-width="1.3" opacity="0.7"/>
<circle cx="161.62" cy="613.85" r="6.12" fill="#a8cee4" stroke="#000" stroke-width="1.3" opacity="0.7"/>
<circle cx="172.32" cy="623.37" r="6.12" fill="#b7d4ea" stroke="#000" stroke-width="1.3" opacity="0.7"/>
<circle cx="183.01" cy="632.19" r="6.12" fill="#c4daee" stroke="#000" stroke-width="1.3" opacity="0.7"/>
<circle cx="193.70" cy="640.32" r="6.12" fill="#cddff1" stroke="#000" stroke-width="1.3" opacity="0.7"/>
<circle cx="204.40" cy="647.75" r="6.12" fill="#d4e4f4" stroke="#000" stroke-width="1.3" opacity="0.7"/>
<circle cx="215.09" cy="654.48" r="6.12" fill="#dae8f6" stroke="#000" stroke-width="1.3" opacity="0.7"/>
<circle cx="225.78" cy="660.51" r="6.12" fill="#e0ecf8" stroke="#000" stroke-width="1.3" opacity="0.7"/>
<circle cx="236.47" cy="665.85" r="6.12" fill="#e6f0f9" stroke="#000" stroke-width="1.3" opacity="0.7"/>
<circle cx="247.17" cy="670.49" r="6.12" fill="#eaf2fb" stroke="#000" stroke-width="1.3" opacity="0.7"/>
<circle cx="257.86" cy="674.42" r="6.12" fill="#eef5fc" stroke="#000" stroke-width="1.3" opacity="0.7"/>
<circle cx="268.55" cy="677.67" r="6.12" fill="#f1f7fd" stroke="#000" stroke-width="1.3" opacity="0.7"/>
<circle cx="279.25" cy="680.21" r="6.12" fill="#f4f9fe" stroke="#000" stroke-width="1.3" opacity="0.7"/>
<circle cx="289.94" cy="682.05" r="6.12" fill="#f5fafe" stroke="#000" stroke-width="1.3" opacity="0.7"/>
<circle cx="300.63" cy="683.20" r="6.12" fill="#f6faff" stroke="#000" stroke-width="1.3" opacity="0.7"/>
<circle cx="311.33" cy="683.65" r="6.12" fill="#f7fbff" stroke="#000" stroke-width="1.3" opacity="0.7"/>
<circle cx="54.69" cy="593.38" r="6.12" fill="#50b264" stroke="#000" stroke-width="1.3" opacity="0.7"/>
<circle cx="65.39" cy="565.99" r="6.12" fill="#359e53" stroke="#000" stroke-width="1.3" opacity="0.7"/>
<circle cx="76.08" cy="541.69" r="6.12" fill="#238b45" stroke="#000" stroke-width="1.3" opacity="0.7"/>
<circle cx="86.77" cy="520.47" r="6.12" fill="#117b38" stroke="#000" stroke-width="1.3" opacity="0.7"/>
<circle cx="97.47" cy="502.34" r="6.12" fill="#016e2d" stroke="#000" stroke-width="1.3" opacity="0.7"/>
<circle cx="108.16" cy="487.29" r="6.12" fill="#005f26" stroke="#000" stroke-width="1.3" opacity="0.7"/>
<circle cx="118.85" cy="475.32" r="6.12" fill="#005321" stroke="#000" stroke-width="1.3" opacity="0.7"/>
<circle cx="129.54" cy="466.44" r="6.12" fill="#004a1e" stroke="#000" stroke-width="1.3" opacity="0.7"/>
<circle cx="140.24" cy="460.64" r="6.12" fill="#00441b" stroke="#000" stroke-width="1.3" opacity="0.7"/>
<circle cx="150.93" cy="457.93" r="6.12" fill="#00441b" stroke="#000" stroke-width="1.3" opacity="0.7"/>
<circle cx="161.62" cy="458.30" r="6.12" fill="#00441b" stroke="#000" stroke-width="1.3" opacity="0.7"/>
<circle cx="172.32" cy="461.75" r="6.12" fill="#00451c" stroke="#000" stroke-width="1.3" opacity="0.7"/>
<circle cx="183.01" cy="468.29" r="6.12" fill="#004c1e" stroke="#000" stroke-width="1.3" opacity="0.7"/>
<circle cx="193.70" cy="477.91" r="6.12" fill="#005622" stroke="#000" stroke-width="1.3" opacity="0.7"/>
<circle cx="204.40" cy="490.62" r="6.12" fill="#006328" stroke="#000" stroke-width="1.3" opacity="0.7"/>
<circle cx="215.09" cy="506.41" r="6.12" fill="#05712f" stroke="#000" stroke-width="1.3" opacity="0.7"/>
<circle cx="225.78" cy="525.28" r="6.12" fill="#157f3b" stroke="#000" stroke-width="1.3" opacity="0.7"/>
<circle cx="236.47" cy="547.24" r="6.12" fill="#278f48" stroke="#000" stroke-width="1.3" opacity="0.7"/>
<circle cx="247.17" cy="572.29" r="6.12" fill="#3aa357" stroke="#000" stroke-width="1.3" opacity="0.7"/>
<circle cx="257.86" cy="600.41" r="6.12" fill="#58b668" stroke="#000" stroke-width="1.3" opacity="0.7"/>
<circle cx="268.55" cy="631.62" r="6.12" fill="#7fc97f" stroke="#000" stroke-width="1.3" opacity="0.7"/>
<circle cx="279.25" cy="665.92" r="6.12" fill="#a4da9e" stroke="#000" stroke-width="1.3" opacity="0.7"/>
<circle cx="289.94" cy="703.30" r="6.12" fill="#c7e9c0" stroke="#000" stroke-width="1.3" opacity="0.7"/>
<circle cx="300.63" cy="743.76" r="6.12" fill="#e5f5e0" stroke="#000" stroke-width="1.3" opacity="0.7"/>
<circle cx="311.33" cy="787.31" r="6.12" fill="#f7fcf5" stroke="#000" stroke-width="1.3" opacity="0.7"/>
<polyline points="54.69,480.24 57.29,484.30 59.88,488.32 62.47,492.31 65.06,496.25 67.65,500.15 70.25,504.01 72.84,507.83 75.43,511.60 78.02,515.34 80.62,519.04 83.21,522.69 85.80,526.30 88.39,529.88 90.98,533.41 93.58,536.90 96.17,540.35 98.76,543.75 101.35,547.12 103.95,550.45 106.54,553.73 109.13,556.98 111.72,560.18 114.31,563.34 116.91,566.46 119.50,569.54 122.09,572.58 124.68,575.58 127.28,578.54 129.87,581.45 132.46,584.33 135.05,587.16 137.65,589.96 140.24,592.71 142.83,595.42 145.42,598.09 148.01,600.72 150.61,603.31 153.20,605.85 155.79,608.36 158.38,610.82 160.98,613.25 163.57,615.63 166.16,617.97 168.75,620.27 171.34,622.53 173.94,624.75 176.53,626.93 179.12,629.07 181.71,631.16 184.31,633.22 186.90,635.23 189.49,637.20 192.08,639.14 194.67,641.03 197.27,642.88 199.86,644.68 202.45,646.45 205.04,648.18 207.64,649.86 210.23,651.51 212.82,653.11 215.41,654.67 218.00,656.20 220.60,657.68 223.19,659.12 225.78,660.51 228.37,661.87 230.97,663.19 233.56,664.46 236.15,665.70 238.74,666.89 241.34,668.04 243.93,669.15 246.52,670.22 249.11,671.25 251.70,672.24 254.30,673.19 256.89,674.09 259.48,674.96 262.07,675.78 264.67,676.57 267.26,677.31 269.85,678.01 272.44,678.67 275.03,679.29 277.63,679.87 280.22,680.40 282.81,680.90 285.40,681.36 288.00,681.77 290.59,682.14 293.18,682.47 295.77,682.77 298.36,683.02 300.96,683.22 303.55,683.39 306.14,683.52 308.73,683.60 311.33,683.65" fill="none" stroke="#0000ff" stroke-width="2.3" stroke-linejoin="round" stroke-opacity="0.92"/>
<polyline points="54.69,593.38 57.29,586.46 59.88,579.72 62.47,573.16 65.06,566.78 67.65,560.58 70.25,554.57 72.84,548.73 75.43,543.08 78.02,537.60 80.62,532.31 83.21,527.20 85.80,522.27 88.39,517.53 90.98,512.96 93.58,508.58 96.17,504.37 98.76,500.35 101.35,496.51 103.95,492.85 106.54,489.37 109.13,486.07 111.72,482.96 114.31,480.02 116.91,477.27 119.50,474.70 122.09,472.31 124.68,470.10 127.28,468.07 129.87,466.22 132.46,464.55 135.05,463.07 137.65,461.77 140.24,460.64 142.83,459.70 145.42,458.94 148.01,458.36 150.61,457.97 153.20,457.75 155.79,457.71 158.38,457.86 160.98,458.19 163.57,458.70 166.16,459.39 168.75,460.26 171.34,461.31 173.94,462.55 176.53,463.96 179.12,465.56 181.71,467.33 184.31,469.29 186.90,471.43 189.49,473.75 192.08,476.26 194.67,478.94 197.27,481.81 199.86,484.85 202.45,488.08 205.04,491.49 207.64,495.08 210.23,498.85 212.82,502.80 215.41,506.94 218.00,511.25 220.60,515.75 223.19,520.43 225.78,525.28 228.37,530.32 230.97,535.55 233.56,540.95 236.15,546.53 238.74,552.30 241.34,558.24 243.93,564.37 246.52,570.68 249.11,577.17 251.70,583.84 254.30,590.69 256.89,597.73 259.48,604.94 262.07,612.34 264.67,619.92 267.26,627.68 269.85,635.62 272.44,643.74 275.03,652.04 277.63,660.52 280.22,669.19 282.81,678.03 285.40,687.06 288.00,696.27 290.59,705.66 293.18,715.23 295.77,724.98 298.36,734.92 300.96,745.03 303.55,755.33 306.14,765.81 308.73,776.47 311.33,787.31" fill="none" stroke="#008000" stroke-width="2.3" stroke-linejoin="round" stroke-opacity="0.92"/>
<rect x="41.43" y="442.83" width="282.72" height="358.96" fill="none" stroke="#cccccc" stroke-width="1.25"/>
<text x="44.00" y="820.59" font-size="11" text-anchor="middle" fill="#262626">50</text>
<text x="97.47" y="820.59" font-size="11" text-anchor="middle" fill="#262626">55</text>
<text x="150.93" y="820.59" font-size="11" text-anchor="middle" fill="#262626">60</text>
<text x="204.40" y="820.59" font-size="11" text-anchor="middle" fill="#262626">65</text>
<text x="257.86" y="820.59" font-size="11" text-anchor="middle" fill="#262626">70</text>
<text x="311.33" y="820.59" font-size="11" text-anchor="middle" fill="#262626">75</text>
<text x="32.43" y="765.02" font-size="11" text-anchor="end" fill="#262626">74</text>
<text x="32.43" y="699.79" font-size="11" text-anchor="end" fill="#262626">76</text>
<text x="32.43" y="634.56" font-size="11" text-anchor="end" fill="#262626">78</text>
<text x="32.43" y="569.33" font-size="11" text-anchor="end" fill="#262626">80</text>
<text x="32.43" y="504.11" font-size="11" text-anchor="end" fill="#262626">82</text>
<text x="182.80" y="836.29" font-size="12" text-anchor="middle" fill="#262626">Epochs</text>
<text transform="translate(11.43,622.31) rotate(-90)" font-size="12" text-anchor="middle" fill="#262626">Accuracy (%)</text>
<text x="182.30" y="436.43" font-size="12.1" text-anchor="middle" fill="#262626">Training &amp; Validation Accuracy (Epochs 51-75)</text>
<rect x="48.03" y="728.01" width="142.00" height="69.50" rx="2.2" ry="2.2" fill="#fff" fill-opacity="0.8" stroke="#cccccc" stroke-width="1"/>
<line x1="52.03" x2="74.53" y1="737.31" y2="737.31" stroke="#0000ff" stroke-width="2.3" stroke-opacity="0.92"/>
<line x1="52.03" x2="74.53" y1="753.81" y2="753.81" stroke="#008000" stroke-width="2.3" stroke-opacity="0.92"/>
<circle cx="63.28" cy="770.31" r="6.12" fill="#08306b" stroke="#000" stroke-width="1.3" opacity="0.7"/>
<circle cx="63.28" cy="786.81" r="6.12" fill="#50b264" stroke="#000" stroke-width="1.3" opacity="0.7"/>
<text x="83.53" y="741.31" font-size="11" text-anchor="start" fill="#262626">Train Trend</text>
<text x="83.53" y="757.81" font-size="11" text-anchor="start" fill="#262626">Validation Trend</text>
<text x="83.53" y="774.31" font-size="11" text-anchor="start" fill="#262626">Train Bubbles</text>
<text x="83.53" y="790.81" font-size="11" text-anchor="start" fill="#262626">Validation Bubbles</text>
<rect x="342.29" y="442.83" width="16.49" height="358.96" fill="url(#gG)" fill-opacity="0.7"/>
<rect x="342.29" y="442.83" width="16.49" height="358.96" fill="none" stroke="#cccccc" stroke-width="1.25"/>
<line x1="358.78" x2="364.28" y1="775.18" y2="775.18" stroke="#262626" stroke-width="1.25"/>
<text x="369.48" y="779.18" font-size="11" text-anchor="start" fill="#262626">74</text>
<line x1="358.78" x2="364.28" y1="703.24" y2="703.24" stroke="#262626" stroke-width="1.25"/>
<text x="369.48" y="707.24" font-size="11" text-anchor="start" fill="#262626">76</text>
<line x1="358.78" x2="364.28" y1="631.30" y2="631.30" stroke="#262626" stroke-width="1.25"/>
<text x="369.48" y="635.30" font-size="11" text-anchor="start" fill="#262626">78</text>
<line x1="358.78" x2="364.28" y1="559.37" y2="559.37" stroke="#262626" stroke-width="1.25"/>
<text x="369.48" y="563.37" font-size="11" text-anchor="start" fill="#262626">80</text>
<line x1="358.78" x2="364.28" y1="487.43" y2="487.43" stroke="#262626" stroke-width="1.25"/>
<text x="369.48" y="491.43" font-size="11" text-anchor="start" fill="#262626">82</text>
<text transform="translate(397.78,623.31) rotate(-90)" font-size="12" text-anchor="middle" fill="#262626" dominant-baseline="auto">Validation Accuracy Gradient</text>
<rect x="417.20" y="442.83" width="17.20" height="358.96" fill="url(#gB)" fill-opacity="0.7"/>
<rect x="417.20" y="442.83" width="17.20" height="358.96" fill="none" stroke="#cccccc" stroke-width="1.25"/>
<line x1="434.41" x2="439.91" y1="764.92" y2="764.92" stroke="#262626" stroke-width="1.25"/>
<text x="445.11" y="768.92" font-size="11" text-anchor="start" fill="#262626">77</text>
<line x1="434.41" x2="439.91" y1="707.30" y2="707.30" stroke="#262626" stroke-width="1.25"/>
<text x="445.11" y="711.30" font-size="11" text-anchor="start" fill="#262626">78</text>
<line x1="434.41" x2="439.91" y1="649.68" y2="649.68" stroke="#262626" stroke-width="1.25"/>
<text x="445.11" y="653.68" font-size="11" text-anchor="start" fill="#262626">79</text>
<line x1="434.41" x2="439.91" y1="592.06" y2="592.06" stroke="#262626" stroke-width="1.25"/>
<text x="445.11" y="596.06" font-size="11" text-anchor="start" fill="#262626">80</text>
<line x1="434.41" x2="439.91" y1="534.45" y2="534.45" stroke="#262626" stroke-width="1.25"/>
<text x="445.11" y="538.45" font-size="11" text-anchor="start" fill="#262626">81</text>
<line x1="434.41" x2="439.91" y1="476.83" y2="476.83" stroke="#262626" stroke-width="1.25"/>
<text x="445.11" y="480.83" font-size="11" text-anchor="start" fill="#262626">82</text>
<text transform="translate(472.21,623.31) rotate(-90)" font-size="12" text-anchor="middle" fill="#262626" dominant-baseline="auto">Train Accuracy Gradient</text>
</g>
<g id="ax4">
<rect x="549.10" y="442.83" width="282.80" height="358.96" fill="#fff"/>
<line x1="551.25" x2="551.25" y1="442.83" y2="801.79" stroke="#cccccc" stroke-width="1.0"/>
<line x1="604.81" x2="604.81" y1="442.83" y2="801.79" stroke="#cccccc" stroke-width="1.0"/>
<line x1="658.37" x2="658.37" y1="442.83" y2="801.79" stroke="#cccccc" stroke-width="1.0"/>
<line x1="711.93" x2="711.93" y1="442.83" y2="801.79" stroke="#cccccc" stroke-width="1.0"/>
<line x1="765.49" x2="765.49" y1="442.83" y2="801.79" stroke="#cccccc" stroke-width="1.0"/>
<line x1="819.05" x2="819.05" y1="442.83" y2="801.79" stroke="#cccccc" stroke-width="1.0"/>
<line x1="549.10" x2="831.90" y1="776.82" y2="776.82" stroke="#cccccc" stroke-width="1.0" stroke-dasharray="3.7 1.6" stroke-opacity="0.4"/>
<line x1="549.10" x2="831.90" y1="733.54" y2="733.54" stroke="#cccccc" stroke-width="1.0" stroke-dasharray="3.7 1.6" stroke-opacity="0.4"/>
<line x1="549.10" x2="831.90" y1="690.26" y2="690.26" stroke="#cccccc" stroke-width="1.0" stroke-dasharray="3.7 1.6" stroke-opacity="0.4"/>
<line x1="549.10" x2="831.90" y1="646.98" y2="646.98" stroke="#cccccc" stroke-width="1.0" stroke-dasharray="3.7 1.6" stroke-opacity="0.4"/>
<line x1="549.10" x2="831.90" y1="603.70" y2="603.70" stroke="#cccccc" stroke-width="1.0" stroke-dasharray="3.7 1.6" stroke-opacity="0.4"/>
<line x1="549.10" x2="831.90" y1="560.42" y2="560.42" stroke="#cccccc" stroke-width="1.0" stroke-dasharray="3.7 1.6" stroke-opacity="0.4"/>
<line x1="549.10" x2="831.90" y1="517.14" y2="517.14" stroke="#cccccc" stroke-width="1.0" stroke-dasharray="3.7 1.6" stroke-opacity="0.4"/>
<line x1="549.10" x2="831.90" y1="473.87" y2="473.87" stroke="#cccccc" stroke-width="1.0" stroke-dasharray="3.7 1.6" stroke-opacity="0.4"/>
<circle cx="561.96" cy="608.25" r="6.12" fill="#f7fbff" stroke="#000" stroke-width="1.3" opacity="0.7"/>
<circle cx="572.67" cy="603.82" r="6.12" fill="#f1f7fd" stroke="#000" stroke-width="1.3" opacity="0.7"/>
<circle cx="583.38" cy="599.31" r="6.12" fill="#eaf2fb" stroke="#000" stroke-width="1.3" opacity="0.7"/>
<circle cx="594.09" cy="594.72" r="6.12" fill="#e3eef8" stroke="#000" stroke-width="1.3" opacity="0.7"/>
<circle cx="604.81" cy="590.04" r="6.12" fill="#dce9f6" stroke="#000" stroke-width="1.3" opacity="0.7"/>
<circle cx="615.52" cy="585.29" r="6.12" fill="#d5e5f4" stroke="#000" stroke-width="1.3" opacity="0.7"/>
<circle cx="626.23" cy="580.45" r="6.12" fill="#cde0f1" stroke="#000" stroke-width="1.3" opacity="0.7"/>
<circle cx="636.94" cy="575.53" r="6.12" fill="#c6dbef" stroke="#000" stroke-width="1.3" opacity="0.7"/>
<circle cx="647.65" cy="570.52" r="6.12" fill="#b9d6ea" stroke="#000" stroke-width="1.3" opacity="0.7"/>
<circle cx="658.37" cy="565.44" r="6.12" fill="#add0e6" stroke="#000" stroke-width="1.3" opacity="0.7"/>
<circle cx="669.08" cy="560.27" r="6.12" fill="#a0cbe2" stroke="#000" stroke-width="1.3" opacity="0.7"/>
<circle cx="679.79" cy="555.02" r="6.12" fill="#91c3de" stroke="#000" stroke-width="1.3" opacity="0.7"/>
<circle cx="690.50" cy="549.69" r="6.12" fill="#7fb9da" stroke="#000" stroke-width="1.3" opacity="0.7"/>
<circle cx="701.21" cy="544.28" r="6.12" fill="#6dafd7" stroke="#000" stroke-width="1.3" opacity="0.7"/>
<circle cx="711.93" cy="538.78" r="6.12" fill="#60a7d2" stroke="#000" stroke-width="1.3" opacity="0.7"/>
<circle cx="722.64" cy="533.20" r="6.12" fill="#519ccc" stroke="#000" stroke-width="1.3" opacity="0.7"/>
<circle cx="733.35" cy="527.54" r="6.12" fill="#4292c6" stroke="#000" stroke-width="1.3" opacity="0.7"/>
<circle cx="744.06" cy="521.80" r="6.12" fill="#3787c0" stroke="#000" stroke-width="1.3" opacity="0.7"/>
<circle cx="754.77" cy="515.97" r="6.12" fill="#2b7bba" stroke="#000" stroke-width="1.3" opacity="0.7"/>
<circle cx="765.49" cy="510.06" r="6.12" fill="#206fb4" stroke="#000" stroke-width="1.3" opacity="0.7"/>
<circle cx="776.20" cy="504.07" r="6.12" fill="#1663aa" stroke="#000" stroke-width="1.3" opacity="0.7"/>
<circle cx="786.91" cy="498.00" r="6.12" fill="#0d57a1" stroke="#000" stroke-width="1.3" opacity="0.7"/>
<circle cx="797.62" cy="491.85" r="6.12" fill="#084b93" stroke="#000" stroke-width="1.3" opacity="0.7"/>
<circle cx="808.33" cy="485.61" r="6.12" fill="#083d7f" stroke="#000" stroke-width="1.3" opacity="0.7"/>
<circle cx="819.05" cy="479.29" r="6.12" fill="#08316d" stroke="#000" stroke-width="1.3" opacity="0.7"/>
<circle cx="561.96" cy="731.38" r="6.12" fill="#dbf1d6" stroke="#000" stroke-width="1.3" opacity="0.7"/>
<circle cx="572.67" cy="685.87" r="6.12" fill="#b6e2af" stroke="#000" stroke-width="1.3" opacity="0.7"/>
<circle cx="583.38" cy="644.51" r="6.12" fill="#8dd08a" stroke="#000" stroke-width="1.3" opacity="0.7"/>
<circle cx="594.09" cy="607.31" r="6.12" fill="#62bb6d" stroke="#000" stroke-width="1.3" opacity="0.7"/>
<circle cx="604.81" cy="574.26" r="6.12" fill="#3ca559" stroke="#000" stroke-width="1.3" opacity="0.7"/>
<circle cx="615.52" cy="545.36" r="6.12" fill="#268e47" stroke="#000" stroke-width="1.3" opacity="0.7"/>
<circle cx="626.23" cy="520.61" r="6.12" fill="#127c39" stroke="#000" stroke-width="1.3" opacity="0.7"/>
<circle cx="636.94" cy="500.01" r="6.12" fill="#006d2c" stroke="#000" stroke-width="1.3" opacity="0.7"/>
<circle cx="647.65" cy="483.57" r="6.12" fill="#005c25" stroke="#000" stroke-width="1.3" opacity="0.7"/>
<circle cx="658.37" cy="471.28" r="6.12" fill="#005020" stroke="#000" stroke-width="1.3" opacity="0.7"/>
<circle cx="669.08" cy="463.14" r="6.12" fill="#00481d" stroke="#000" stroke-width="1.3" opacity="0.7"/>
<circle cx="679.79" cy="459.16" r="6.12" fill="#00441b" stroke="#000" stroke-width="1.3" opacity="0.7"/>
<circle cx="690.50" cy="459.32" r="6.12" fill="#00441b" stroke="#000" stroke-width="1.3" opacity="0.7"/>
<circle cx="701.21" cy="463.64" r="6.12" fill="#00481d" stroke="#000" stroke-width="1.3" opacity="0.7"/>
<circle cx="711.93" cy="472.11" r="6.12" fill="#005120" stroke="#000" stroke-width="1.3" opacity="0.7"/>
<circle cx="722.64" cy="484.73" r="6.12" fill="#005e26" stroke="#000" stroke-width="1.3" opacity="0.7"/>
<circle cx="733.35" cy="501.51" r="6.12" fill="#016e2d" stroke="#000" stroke-width="1.3" opacity="0.7"/>
<circle cx="744.06" cy="522.44" r="6.12" fill="#137d39" stroke="#000" stroke-width="1.3" opacity="0.7"/>
<circle cx="754.77" cy="547.52" r="6.12" fill="#289049" stroke="#000" stroke-width="1.3" opacity="0.7"/>
<circle cx="765.49" cy="576.75" r="6.12" fill="#3ea75a" stroke="#000" stroke-width="1.3" opacity="0.7"/>
<circle cx="776.20" cy="610.13" r="6.12" fill="#65bd6f" stroke="#000" stroke-width="1.3" opacity="0.7"/>
<circle cx="786.91" cy="647.67" r="6.12" fill="#90d18d" stroke="#000" stroke-width="1.3" opacity="0.7"/>
<circle cx="797.62" cy="689.35" r="6.12" fill="#bae3b3" stroke="#000" stroke-width="1.3" opacity="0.7"/>
<circle cx="808.33" cy="735.20" r="6.12" fill="#def2d9" stroke="#000" stroke-width="1.3" opacity="0.7"/>
<circle cx="819.05" cy="785.19" r="6.12" fill="#f7fcf5" stroke="#000" stroke-width="1.3" opacity="0.7"/>
<polyline points="561.96,608.25 564.56,607.18 567.15,606.11 569.75,605.04 572.35,603.95 574.94,602.87 577.54,601.78 580.14,600.69 582.73,599.59 585.33,598.48 587.93,597.37 590.52,596.26 593.12,595.14 595.72,594.01 598.31,592.89 600.91,591.75 603.51,590.61 606.10,589.47 608.70,588.32 611.30,587.17 613.90,586.01 616.49,584.85 619.09,583.68 621.69,582.51 624.28,581.33 626.88,580.15 629.48,578.97 632.07,577.77 634.67,576.58 637.27,575.38 639.86,574.17 642.46,572.96 645.06,571.75 647.65,570.52 650.25,569.30 652.85,568.07 655.44,566.83 658.04,565.59 660.64,564.35 663.23,563.10 665.83,561.85 668.43,560.59 671.03,559.32 673.62,558.05 676.22,556.78 678.82,555.50 681.41,554.22 684.01,552.93 686.61,551.64 689.20,550.34 691.80,549.04 694.40,547.73 696.99,546.42 699.59,545.10 702.19,543.78 704.78,542.45 707.38,541.12 709.98,539.78 712.57,538.44 715.17,537.10 717.77,535.75 720.37,534.39 722.96,533.03 725.56,531.67 728.16,530.29 730.75,528.92 733.35,527.54 735.95,526.16 738.54,524.77 741.14,523.37 743.74,521.97 746.33,520.57 748.93,519.16 751.53,517.75 754.12,516.33 756.72,514.90 759.32,513.48 761.91,512.04 764.51,510.60 767.11,509.16 769.71,507.71 772.30,506.26 774.90,504.80 777.50,503.34 780.09,501.88 782.69,500.40 785.29,498.93 787.88,497.45 790.48,495.96 793.08,494.47 795.67,492.97 798.27,491.47 800.87,489.97 803.46,488.46 806.06,486.94 808.66,485.42 811.25,483.90 813.85,482.37 816.45,480.83 819.05,479.29" fill="none" stroke="#0000ff" stroke-width="2.3" stroke-linejoin="round" stroke-opacity="0.92"/>
<polyline points="561.96,731.38 564.56,719.96 567.15,708.79 569.75,697.87 572.35,687.19 574.94,676.75 577.54,666.55 580.14,656.60 582.73,646.90 585.33,637.44 587.93,628.22 590.52,619.25 593.12,610.52 595.72,602.03 598.31,593.79 600.91,585.79 603.51,578.04 606.10,570.53 608.70,563.27 611.30,556.25 613.90,549.47 616.49,542.94 619.09,536.65 621.69,530.60 624.28,524.80 626.88,519.24 629.48,513.93 632.07,508.86 634.67,504.04 637.27,499.46 639.86,495.12 642.46,491.03 645.06,487.18 647.65,483.57 650.25,480.21 652.85,477.09 655.44,474.22 658.04,471.59 660.64,469.21 663.23,467.07 665.83,465.17 668.43,463.52 671.03,462.11 673.62,460.94 676.22,460.02 678.82,459.35 681.41,458.91 684.01,458.73 686.61,458.78 689.20,459.08 691.80,459.63 694.40,460.41 696.99,461.44 699.59,462.72 702.19,464.24 704.78,466.00 707.38,468.01 709.98,470.26 712.57,472.76 715.17,475.50 717.77,478.48 720.37,481.71 722.96,485.18 725.56,488.90 728.16,492.86 730.75,497.06 733.35,501.51 735.95,506.20 738.54,511.14 741.14,516.32 743.74,521.74 746.33,527.41 748.93,533.32 751.53,539.48 754.12,545.88 756.72,552.52 759.32,559.41 761.91,566.54 764.51,573.92 767.11,581.54 769.71,589.40 772.30,597.51 774.90,605.86 777.50,614.46 780.09,623.30 782.69,632.38 785.29,641.71 787.88,651.29 790.48,661.10 793.08,671.16 795.67,681.47 798.27,692.01 800.87,702.81 803.46,713.84 806.06,725.12 808.66,736.65 811.25,748.42 813.85,760.43 816.45,772.69 819.05,785.19" fill="none" stroke="#008000" stroke-width="2.3" stroke-linejoin="round" stroke-opacity="0.92"/>
<rect x="549.10" y="442.83" width="282.80" height="358.96" fill="none" stroke="#cccccc" stroke-width="1.25"/>
<text x="551.25" y="820.59" font-size="11" text-anchor="middle" fill="#262626">75</text>
<text x="604.81" y="820.59" font-size="11" text-anchor="middle" fill="#262626">80</text>
<text x="658.37" y="820.59" font-size="11" text-anchor="middle" fill="#262626">85</text>
<text x="711.93" y="820.59" font-size="11" text-anchor="middle" fill="#262626">90</text>
<text x="765.49" y="820.59" font-size="11" text-anchor="middle" fill="#262626">95</text>
<text x="819.05" y="820.59" font-size="11" text-anchor="middle" fill="#262626">100</text>
<text x="540.10" y="780.82" font-size="11" text-anchor="end" fill="#262626">70</text>
<text x="540.10" y="737.54" font-size="11" text-anchor="end" fill="#262626">72</text>
<text x="540.10" y="694.26" font-size="11" text-anchor="end" fill="#262626">74</text>
<text x="540.10" y="650.98" font-size="11" text-anchor="end" fill="#262626">76</text>
<text x="540.10" y="607.70" font-size="11" text-anchor="end" fill="#262626">78</text>
<text x="540.10" y="564.42" font-size="11" text-anchor="end" fill="#262626">80</text>
<text x="540.10" y="521.14" font-size="11" text-anchor="end" fill="#262626">82</text>
<text x="540.10" y="477.87" font-size="11" text-anchor="end" fill="#262626">84</text>
<text x="690.50" y="836.29" font-size="12" text-anchor="middle" fill="#262626">Epochs</text>
<text transform="translate(517.90,622.31) rotate(-90)" font-size="12" text-anchor="middle" fill="#262626">Accuracy (%)</text>
<text x="690.00" y="436.43" font-size="12.1" text-anchor="middle" fill="#262626">Training &amp; Validation Accuracy (Epochs 76-100)</text>
<rect x="619.71" y="728.42" width="142.00" height="69.50" rx="2.2" ry="2.2" fill="#fff" fill-opacity="0.8" stroke="#cccccc" stroke-width="1"/>
<line x1="623.71" x2="646.21" y1="737.72" y2="737.72" stroke="#0000ff" stroke-width="2.3" stroke-opacity="0.92"/>
<line x1="623.71" x2="646.21" y1="754.22" y2="754.22" stroke="#008000" stroke-width="2.3" stroke-opacity="0.92"/>
<circle cx="634.96" cy="770.72" r="6.12" fill="#f7fbff" stroke="#000" stroke-width="1.3" opacity="0.7"/>
<circle cx="634.96" cy="787.22" r="6.12" fill="#dbf1d6" stroke="#000" stroke-width="1.3" opacity="0.7"/>
<text x="655.21" y="741.72" font-size="11" text-anchor="start" fill="#262626">Train Trend</text>
<text x="655.21" y="758.22" font-size="11" text-anchor="start" fill="#262626">Validation Trend</text>
<text x="655.21" y="774.72" font-size="11" text-anchor="start" fill="#262626">Train Bubbles</text>
<text x="655.21" y="791.22" font-size="11" text-anchor="start" fill="#262626">Validation Bubbles</text>
<rect x="849.82" y="442.83" width="17.20" height="358.96" fill="url(#gG)" fill-opacity="0.7"/>
<rect x="849.82" y="442.83" width="17.20" height="358.96" fill="none" stroke="#cccccc" stroke-width="1.25"/>
<line x1="867.03" x2="872.53" y1="792.27" y2="792.27" stroke="#262626" stroke-width="1.25"/>
<text x="876.73" y="796.27" font-size="11" text-anchor="start" fill="#262626">70</text>
<line x1="867.03" x2="872.53" y1="744.66" y2="744.66" stroke="#262626" stroke-width="1.25"/>
<text x="876.73" y="748.66" font-size="11" text-anchor="start" fill="#262626">72</text>
<line x1="867.03" x2="872.53" y1="697.06" y2="697.06" stroke="#262626" stroke-width="1.25"/>
<text x="876.73" y="701.06" font-size="11" text-anchor="start" fill="#262626">74</text>
<line x1="867.03" x2="872.53" y1="649.45" y2="649.45" stroke="#262626" stroke-width="1.25"/>
<text x="876.73" y="653.45" font-size="11" text-anchor="start" fill="#262626">76</text>
<line x1="867.03" x2="872.53" y1="601.84" y2="601.84" stroke="#262626" stroke-width="1.25"/>
<text x="876.73" y="605.84" font-size="11" text-anchor="start" fill="#262626">78</text>
<line x1="867.03" x2="872.53" y1="554.23" y2="554.23" stroke="#262626" stroke-width="1.25"/>
<text x="876.73" y="558.23" font-size="11" text-anchor="start" fill="#262626">80</text>
<line x1="867.03" x2="872.53" y1="506.63" y2="506.63" stroke="#262626" stroke-width="1.25"/>
<text x="876.73" y="510.63" font-size="11" text-anchor="start" fill="#262626">82</text>
<line x1="867.03" x2="872.53" y1="459.02" y2="459.02" stroke="#262626" stroke-width="1.25"/>
<text x="876.73" y="463.02" font-size="11" text-anchor="start" fill="#262626">84</text>
<text transform="translate(904.23,623.31) rotate(-90)" font-size="12" text-anchor="middle" fill="#262626" dominant-baseline="auto">Validation Accuracy Gradient</text>
<rect x="924.01" y="442.83" width="17.20" height="358.96" fill="url(#gB)" fill-opacity="0.7"/>
<rect x="924.01" y="442.83" width="17.20" height="358.96" fill="none" stroke="#cccccc" stroke-width="1.25"/>
<line x1="941.22" x2="946.72" y1="789.79" y2="789.79" stroke="#262626" stroke-width="1.25"/>
<text x="950.92" y="793.79" font-size="11" text-anchor="start" fill="#262626">78</text>
<line x1="941.22" x2="946.72" y1="729.76" y2="729.76" stroke="#262626" stroke-width="1.25"/>
<text x="950.92" y="733.76" font-size="11" text-anchor="start" fill="#262626">79</text>
<line x1="941.22" x2="946.72" y1="669.73" y2="669.73" stroke="#262626" stroke-width="1.25"/>
<text x="950.92" y="673.73" font-size="11" text-anchor="start" fill="#262626">80</text>
<line x1="941.22" x2="946.72" y1="609.71" y2="609.71" stroke="#262626" stroke-width="1.25"/>
<text x="950.92" y="613.71" font-size="11" text-anchor="start" fill="#262626">81</text>
<line x1="941.22" x2="946.72" y1="549.68" y2="549.68" stroke="#262626" stroke-width="1.25"/>
<text x="950.92" y="553.68" font-size="11" text-anchor="start" fill="#262626">82</text>
<line x1="941.22" x2="946.72" y1="489.65" y2="489.65" stroke="#262626" stroke-width="1.25"/>
<text x="950.92" y="493.65" font-size="11" text-anchor="start" fill="#262626">83</text>
<text transform="translate(978.42,623.31) rotate(-90)" font-size="12" text-anchor="middle" fill="#262626" dominant-baseline="auto">Train Accuracy Gradient</text>
</g>
</g></svg></body></html>
